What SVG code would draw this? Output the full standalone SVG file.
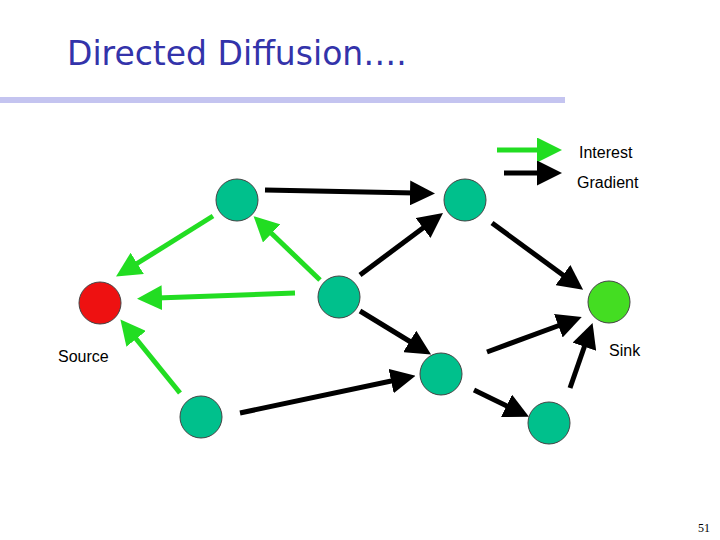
<svg xmlns="http://www.w3.org/2000/svg" width="720" height="540" viewBox="0 0 720 540">
<defs>
<marker id="hb" markerWidth="5" markerHeight="5" refX="1" refY="2.5" orient="auto" markerUnits="strokeWidth"><path d="M0,0 L5,2.5 L0,5 z" fill="#000"/></marker>
<marker id="hg" markerWidth="5" markerHeight="5" refX="1" refY="2.5" orient="auto" markerUnits="strokeWidth"><path d="M0,0 L5,2.5 L0,5 z" fill="#22DD22"/></marker>
<style>
.b{stroke:#000;stroke-width:5;marker-end:url(#hb)}
.g{stroke:#22DD22;stroke-width:5;marker-end:url(#hg)}
.n{fill:#00C08C;stroke:#444;stroke-width:1}
.t{font-family:"Liberation Sans",Arial,sans-serif;font-size:16px;fill:#000}
</style>
</defs>
<rect width="720" height="540" fill="#fff"/>
<text x="67" y="65" font-family="Verdana,'DejaVu Sans',sans-serif" font-size="33" fill="#3333AA">Directed Diffusion….</text>
<rect x="0" y="97" width="565" height="6" fill="#C4C4F0"/>
<g id="connectors">
<line class="b" x1="265" y1="190" x2="415" y2="193"/>
<line class="b" x1="360" y1="275" x2="427" y2="225"/>
<line class="b" x1="492" y1="223" x2="567" y2="278"/>
<line class="b" x1="360" y1="311" x2="414" y2="344"/>
<line class="b" x1="487" y1="352" x2="563" y2="324"/>
<line class="b" x1="474" y1="390" x2="511" y2="408"/>
<line class="b" x1="570" y1="388" x2="586" y2="342"/>
<line class="b" x1="240" y1="413" x2="396" y2="380"/>
<line class="g" x1="213" y1="216" x2="133" y2="266"/>
<line class="g" x1="320" y1="280" x2="268" y2="230"/>
<line class="g" x1="295" y1="293" x2="157" y2="298"/>
<line class="g" x1="180" y1="393" x2="133" y2="335"/>
<line class="g" x1="497" y1="150" x2="542" y2="150"/>
<line class="b" x1="504" y1="173" x2="542" y2="173"/>
</g>
<g id="source"><circle cx="100" cy="303" r="21" fill="#EE1111" stroke="#444"/></g>
<g id="n1"><circle class="n" cx="237" cy="200" r="21"/></g>
<g id="n2"><circle class="n" cx="465" cy="200" r="21"/></g>
<g id="n3"><circle class="n" cx="339" cy="297" r="21"/></g>
<g id="sink"><circle cx="609" cy="302" r="21" fill="#44DD22" stroke="#444"/></g>
<g id="n4"><circle class="n" cx="441" cy="374" r="21"/></g>
<g id="n5"><circle class="n" cx="201" cy="417" r="21"/></g>
<g id="n6"><circle class="n" cx="549" cy="423" r="21"/></g>
<text class="t" x="579" y="158">Interest</text>
<text class="t" x="577" y="188">Gradient</text>
<text class="t" x="58" y="362">Source</text>
<text class="t" x="609" y="356">Sink</text>
<text x="698" y="532" font-family="'Liberation Serif',serif" font-size="12">51</text>
</svg>
